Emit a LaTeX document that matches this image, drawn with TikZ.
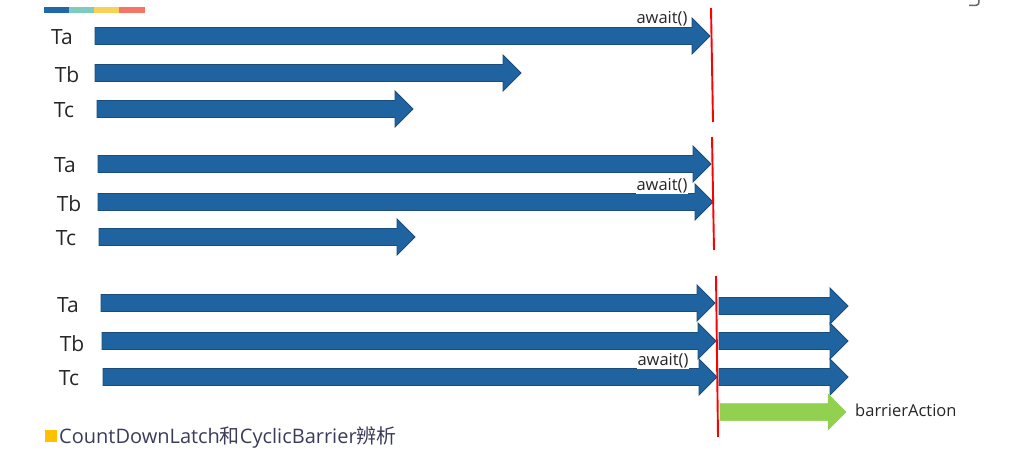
\documentclass[tikz,border=0pt]{standalone}
\usepackage{fontspec}
\setmainfont{Open Sans}
\newfontfamily\cjk{Noto Sans CJK SC}
\definecolor{ablue}{HTML}{1F64A0}
\definecolor{aborder}{HTML}{1A4D7C}
\definecolor{agreen}{HTML}{92D050}
\definecolor{txt}{HTML}{262626}
\definecolor{legtxt}{HTML}{3C3C5A}
\definecolor{legsq}{HTML}{FFC000}
\definecolor{cb1}{HTML}{2169A6}
\definecolor{cb2}{HTML}{7DCCC0}
\definecolor{cb3}{HTML}{F8D256}
\definecolor{cb4}{HTML}{F47564}
\newcommand\harrow[4]{% xstart, xtip, y, style
  \filldraw[#4] (#1,{#3-8.5}) -- ({#2-18},{#3-8.5}) -- ({#2-18},{#3-18}) -- (#2,#3) -- ({#2-18},{#3+18}) -- ({#2-18},{#3+8.5}) -- (#1,{#3+8.5}) -- cycle;}
\tikzset{
  thread/.style={fill=ablue,draw=aborder,line width=0.9pt,line join=miter},
  action/.style={fill=agreen,draw=agreen,line width=0.5pt},
  tlabel/.style={font=\fontsize{21}{24}\selectfont,text=txt,inner sep=0pt},
  awaitlbl/.style={font=\fontsize{16.5}{19}\selectfont,text=txt,inner sep=1pt},
  barrier/.style={draw=red,line width=1.9pt},
}
\begin{document}
\begin{tikzpicture}[x=1pt,y=-1pt]
\useasboundingbox (0,0) rectangle (1011,454);
% colour bar
\fill[cb1] (44,7) rectangle (69,13);
\fill[cb2] (69,7) rectangle (94,13);
\fill[cb3] (94,7) rectangle (119,13);
\fill[cb4] (119,7) rectangle (145,13);
% cut glyph top right
\draw[color=gray!80!black,line width=1.5pt] (969,5.5) -- (976,5.5) .. controls (979,5.5) and (979,3) .. (979,0);
% ---- group 1 ----
\node[tlabel] (ta1) at (62,37) {Ta};
\node[tlabel] (tb1) at (67,75) {Tb};
\node[tlabel] (tc1) at (64,110) {Tc};
\node[awaitlbl] (aw1) at (662,19) {await()};
\harrow{95}{710}{36}{thread}
\harrow{95}{521}{73}{thread}
\harrow{97}{413}{109}{thread}
\coordinate (r1a) at (711,8);
\coordinate (r1b) at (713,122);
\draw[barrier] (r1a) -- (r1b);
% ---- group 2 ----
\node[tlabel] (ta2) at (65,165) {Ta};
\node[tlabel] (tb2) at (69,204) {Tb};
\node[tlabel] (tc2) at (66,238) {Tc};
\harrow{98}{711}{164}{thread}
\harrow{98}{713}{202}{thread}
\harrow{99}{415}{237}{thread}
\node[awaitlbl,fill=white] (aw2) at (662,186) {await()};
\coordinate (r2a) at (712,137);
\coordinate (r2b) at (714,250);
\draw[barrier] (r2a) -- (r2b);
% ---- group 3 ----
\node[tlabel] (ta3) at (68,305) {Ta};
\node[tlabel] (tb3) at (72,344) {Tb};
\node[tlabel] (tc3) at (69,378) {Tc};
\harrow{101}{715}{303}{thread}
\harrow{102}{716}{341}{thread}
\harrow{103}{717}{377}{thread}
\node[awaitlbl,fill=white] (aw3) at (663,361) {await()};
\harrow{719}{848}{306}{thread}
\harrow{719}{848}{341}{thread}
\harrow{719}{848}{377}{thread}
\harrow{720}{846}{412}{action}
\node[awaitlbl,anchor=west] (ba) at (854,410) {barrierAction};
\coordinate (r3a) at (716,276);
\coordinate (r3b) at (718,437);
\draw[barrier] (r3a) -- (r3b);
% legend
\fill[legsq] (45,430) rectangle (57,442);
\node[anchor=west,inner sep=0pt,text=legtxt,font=\fontsize{20}{23}\selectfont] (leg) at (59,437) {CountDownLatch{\cjk 和}CyclicBarrier{\cjk 辨析}};
\end{tikzpicture}
\end{document}
